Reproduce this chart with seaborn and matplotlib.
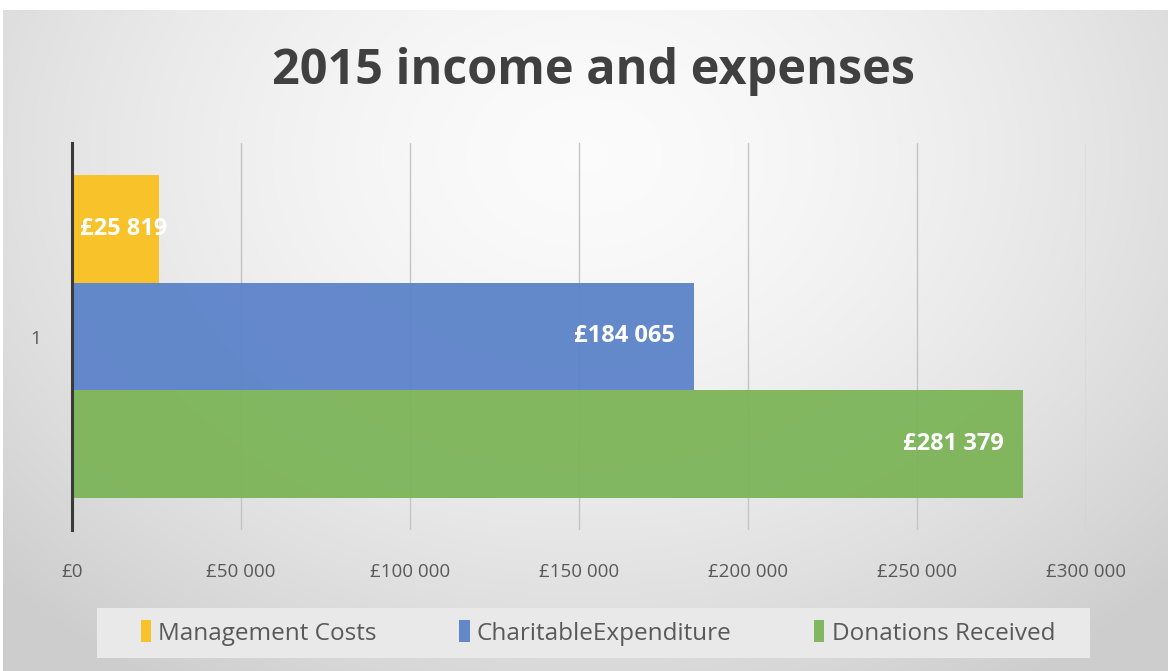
import numpy as np
import pandas as pd
import matplotlib
matplotlib.use('Agg')
import matplotlib.pyplot as plt
from matplotlib.colors import LinearSegmentedColormap
from matplotlib.patches import Rectangle
from matplotlib.ticker import FuncFormatter
import seaborn as sns

# Data
category = ['1', '1', '1']
series = ['Management Costs', 'CharitableExpenditure', 'Donations Received']
amounts = [25819, 184065, 281379]
colors = ['#FAC01E', '#5B82C9', '#7BB457']
x_ticks = [0, 50000, 100000, 150000, 200000, 250000, 300000]


def money(v):
    # Excel style: £184 065
    return '£' + f'{int(v):,}'.replace(',', ' ')


def main():
    df = pd.DataFrame({'cat': category, 'series': series, 'amount': amounts})

    sns.set_theme(style='white')
    plt.rcParams['font.family'] = ['Open Sans', 'DejaVu Sans']

    fig = plt.figure(figsize=(11.71, 6.71), dpi=100, facecolor='white')

    # radial grey background like the Excel chart area
    bg = fig.add_axes([3 / 1171, 0, 1165 / 1171, 661 / 671], zorder=0)
    yy, xx = np.mgrid[0:1:400j, 0:1:700j]
    r = np.sqrt(((xx - 0.5) / 0.62) ** 2 + ((yy - 0.22) / 0.85) ** 2)
    shade = np.clip(r, 0, 1.2) ** 1.6
    cmap = LinearSegmentedColormap.from_list('bg', ['#fbfbfb', '#cdcdcd'])
    bg.imshow(shade, cmap=cmap, aspect='auto', extent=[0, 1, 1, 0], vmin=0, vmax=1.2)
    bg.set_axis_off()

    ax = fig.add_axes([72 / 1171, 141 / 671, (1086 - 72) / 1171, (528 - 141) / 671], zorder=1)
    ax.set_facecolor('none')

    sns.barplot(data=df, x='amount', y='cat', hue='series', palette=colors,
                orient='h', width=0.835, ax=ax, legend=True, saturation=1,
                edgecolor='none', alpha=0.94, zorder=2)

    ax.set_xlim(0, 300000)
    ax.set_ylim(0.5, -0.5)
    ax.set_xticks(x_ticks)
    ax.xaxis.set_major_formatter(FuncFormatter(lambda v, p: money(v)))
    ax.grid(axis='x', color='#c4c4c4', linewidth=1.0, zorder=1)
    ax.set_axisbelow(True)
    for s in ['top', 'right', 'bottom']:
        ax.spines[s].set_visible(False)
    ax.spines['left'].set_color('#3a3a3a')
    ax.spines['left'].set_linewidth(2.2)
    ax.spines['left'].set_zorder(4)
    ax.tick_params(axis='x', length=0, pad=24, labelsize=13.5, labelcolor='#595959')
    ax.tick_params(axis='y', length=0, pad=22, labelsize=13.5, labelcolor='#595959')
    ax.set_xlabel('')
    ax.set_ylabel('')

    # data labels in white, inside the end of each bar
    for bar, val in zip(ax.patches, amounts):
        yc = bar.get_y() + bar.get_height() / 2
        if val < 50000:
            ax.annotate(money(val), xy=(0, yc), xytext=(6, 0), textcoords='offset points',
                        ha='left', va='center', color='white', fontsize=17,
                        fontweight='bold', zorder=5)
        else:
            ax.annotate(money(val), xy=(bar.get_width(), yc), xytext=(-14, 0),
                        textcoords='offset points', ha='right', va='center',
                        color='white', fontsize=17, fontweight='bold', zorder=5)

    # legend on a light strip at the bottom
    fig.patches.append(Rectangle((97 / 1171, 13 / 671), (1090 - 97) / 1171, 50 / 671,
                                 transform=fig.transFigure, facecolor='#e9e9e9',
                                 edgecolor='none', zorder=1))
    handles, labels = ax.get_legend_handles_labels()
    ax.legend_.remove()
    fig.legend(handles, labels, loc='center', bbox_to_anchor=(598 / 1171, 38 / 671),
               ncol=3, frameon=False, fontsize=17.5, labelcolor='#595959',
               handlelength=0.42, handleheight=1.0, handletextpad=0.3, columnspacing=3.4)

    fig.text(593 / 1171, 599 / 671, '2015 income and expenses', ha='center', va='center',
             fontsize=35, fontweight='bold', color='#404040')

    fig.savefig('out.png', dpi=100, facecolor='white')
    plt.close(fig)


if __name__ == '__main__':
    main()
